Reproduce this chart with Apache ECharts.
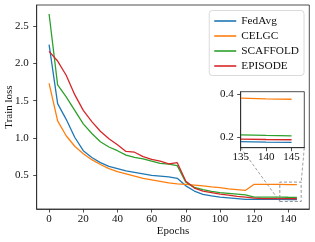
<!DOCTYPE html>
<html><head><meta charset="utf-8">
<script src="https://cdn.jsdelivr.net/npm/echarts@6/dist/echarts.min.js"></script>
<style>html,body{margin:0;padding:0;background:#fff}#c{width:315px;height:242px}</style>
</head><body><div id="c"></div>
<script>
const epochs = [0,5,10,15,20,25,30,35,40,45,50,55,60,65,70,75,80,85,90,95,100,105,110,115,120,125,130,135,140,145];
const fedavg = [2.25,1.46,1.25,1.01,0.83,0.74,0.67,0.62,0.59,0.56,0.54,0.52,0.50,0.49,0.48,0.46,0.36,0.29,0.245,0.225,0.21,0.20,0.19,0.18,0.18,0.18,0.179,0.178,0.176,0.175];
const celgc = [1.73,1.23,1.03,0.89,0.79,0.71,0.645,0.59,0.55,0.52,0.49,0.46,0.44,0.42,0.40,0.385,0.38,0.37,0.36,0.345,0.335,0.32,0.31,0.30,0.38,0.38,0.38,0.38,0.377,0.375];
const scaffold = [2.66,1.71,1.55,1.37,1.19,1.06,0.95,0.88,0.83,0.77,0.74,0.72,0.69,0.66,0.65,0.63,0.41,0.34,0.31,0.285,0.27,0.26,0.25,0.24,0.21,0.21,0.21,0.21,0.207,0.205];
const episode = [2.16,2.03,1.84,1.58,1.37,1.22,1.09,0.99,0.91,0.82,0.81,0.75,0.715,0.69,0.655,0.67,0.42,0.33,0.29,0.27,0.25,0.235,0.22,0.21,0.195,0.19,0.19,0.19,0.188,0.187];
const names = ['FedAvg','CELGC','SCAFFOLD','EPISODE'];
const colors = ['#1f77b4','#ff7f0e','#2ca02c','#d62728'];
const xTicks = [0,20,40,60,80,100,120,140];
const yTicks = [0.5,1.0,1.5,2.0,2.5];
const insetXTicks = [135,140,145];
const insetYTicks = [0.2,0.4];
const zoomX = [135,147.5];
const zoomY = [0.15,0.41];

const F = 'Liberation Serif';
const all = [fedavg,celgc,scaffold,episode];
const pairs = arr => epochs.map((e,i)=>[e,arr[i]]);

const chart = echarts.init(document.getElementById('c'), null, {renderer:'canvas'});
const axisCommon = (ticks, fs, margin, fmt) => ({
  type:'value', splitLine:{show:false},
  axisLine:{show:true,onZero:false,lineStyle:{color:'#222',width:0.8}},
  axisTick:{show:true,inside:false,length:3.5,customValues:ticks,lineStyle:{color:'#222',width:0.8}},
  axisLabel:{customValues:ticks,fontFamily:F,fontSize:fs,color:'#111',margin:margin,formatter:fmt,hideOverlap:false}
});
const series = [];
all.forEach((d,i)=>{
  series.push({name:names[i],type:'line',data:pairs(d),showSymbol:false,symbol:'none',
    lineStyle:{color:colors[i],width:1.3},itemStyle:{color:colors[i]},z:2,xAxisIndex:0,yAxisIndex:0,animation:false});
});
series.push({name:'box',type:'line',data:[[zoomX[0],zoomY[0]],[zoomX[1],zoomY[0]],[zoomX[1],zoomY[1]],[zoomX[0],zoomY[1]],[zoomX[0],zoomY[0]]],
  showSymbol:false,symbol:'none',lineStyle:{color:'#888',width:0.9,type:[3,2]},z:3,silent:true,animation:false,xAxisIndex:0,yAxisIndex:0});
all.forEach((d,i)=>{
  series.push({name:names[i]+'_in',type:'line',data:pairs(d),showSymbol:false,symbol:'none',clip:true,
    lineStyle:{color:colors[i],width:1.3},z:11,xAxisIndex:1,yAxisIndex:1,animation:false,silent:true});
});

const x0 = axisCommon(xTicks,11,5,v=>String(v));
Object.assign(x0,{min:-7.25,max:152.25,gridIndex:0,name:'Epochs',nameLocation:'middle',nameGap:17,nameMoveOverlap:false,
  nameTextStyle:{fontFamily:F,fontSize:11,color:'#111'}});
const y0 = axisCommon(yTicks,11,8,v=>v.toFixed(1));
Object.assign(y0,{min:0.05,max:2.78,gridIndex:0,name:'Train loss',nameLocation:'middle',nameGap:22,nameRotate:90,nameMoveOverlap:false,
  nameTextStyle:{fontFamily:F,fontSize:11,color:'#111'}});
const x1 = axisCommon(insetXTicks,11,4,v=>String(v));
Object.assign(x1,{min:zoomX[0],max:zoomX[1],gridIndex:1,z:12});
const y1 = axisCommon(insetYTicks,11,7,v=>v.toFixed(1));
Object.assign(y1,{min:zoomY[0],max:zoomY[1],gridIndex:1,z:12});

chart.setOption({
  animation:false,
  backgroundColor:'#fff',
  grid:[
    {left:36.7,top:5,right:5.7,bottom:33,show:true,borderColor:'#222',borderWidth:0.8,backgroundColor:'transparent',containLabel:false,outerBoundsMode:'none'},
    {left:240.7,top:91.7,width:63.6,height:56,show:true,borderColor:'#222',borderWidth:0.8,backgroundColor:'#fff',z:10,containLabel:false,outerBoundsMode:'none'}
  ],
  xAxis:[x0,x1],
  yAxis:[y0,y1],
  legend:{data:names.map(n=>({name:n,icon:'rect'})),orient:'vertical',right:11,top:10.5,itemWidth:22,itemHeight:1.6,itemGap:4,
    backgroundColor:'rgba(255,255,255,0.85)',borderColor:'#d0d0d0',borderWidth:0.8,borderRadius:3,padding:[5,5,4,5],
    textStyle:{fontFamily:F,fontSize:11.3,color:'#111'},z:20},
  series:series
});

const p = (finder,pt)=>chart.convertToPixel(finder,pt);
const inLL = p({xAxisIndex:1,yAxisIndex:1},[zoomX[0],zoomY[0]]);
const inLR = p({xAxisIndex:1,yAxisIndex:1},[zoomX[1],zoomY[0]]);
const bLL = p({xAxisIndex:0,yAxisIndex:0},[zoomX[0],zoomY[0]]);
const bUR = p({xAxisIndex:0,yAxisIndex:0},[zoomX[1],zoomY[1]]);
chart.setOption({graphic:[
  {type:'line',shape:{x1:inLL[0],y1:inLL[1],x2:bLL[0],y2:bLL[1]},style:{stroke:'#888',lineWidth:0.8,lineDash:[3,2]},z:9,silent:true},
  {type:'line',shape:{x1:inLR[0],y1:inLR[1],x2:bUR[0],y2:bUR[1]},style:{stroke:'#888',lineWidth:0.8,lineDash:[3,2]},z:9,silent:true}
]});
</script></body></html>
